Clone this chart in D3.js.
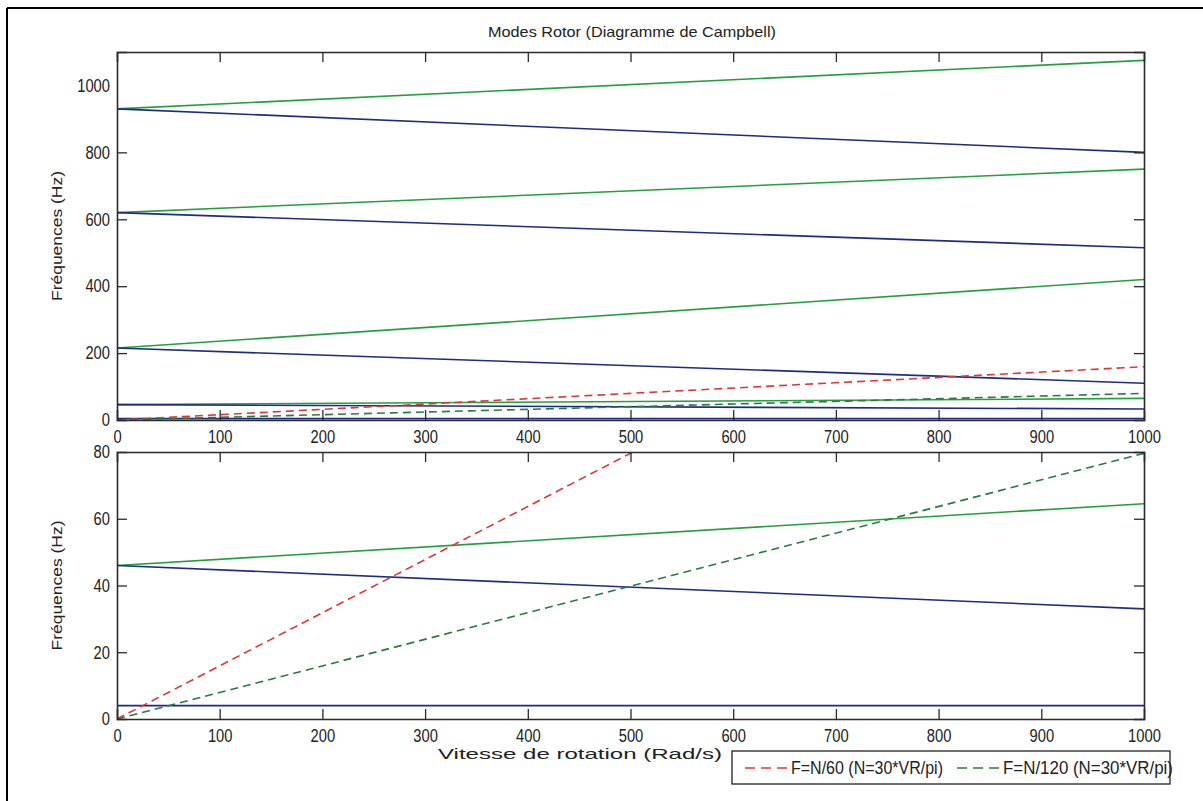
<!DOCTYPE html>
<html>
<head>
<meta charset="utf-8">
<script src="https://cdn.jsdelivr.net/npm/d3@7"></script>
<style>
  html, body { margin: 0; padding: 0; background: #fff; }
  svg { display: block; }
  .tick text { font-family: "Liberation Sans", Arial, sans-serif; font-size: 18px; fill: #222; }
  .lbl { font-family: "Liberation Sans", Arial, sans-serif; fill: #222; }
</style>
</head>
<body>
<svg id="chart" width="1203" height="801"></svg>
<script>
// ---------- data ----------
const speeds = [0, 1000];                       // Vitesse de rotation (Rad/s)
// forward whirl modes (green, solid) — frequencies at speed 0 and 1000
const forward1 = [46, 64.5];
const forward2 = [215, 420];
const forward3 = [620, 750];
const forward4 = [930, 1075];
// backward whirl modes (blue, solid)
const backward0 = [4, 4];
const backward1 = [46, 33];
const backward2 = [215, 110];
const backward3 = [620, 515];
const backward4 = [930, 800];
// excitation lines (dashed)
const excit60 = [0, 159.2];     // F=N/60
const excit120 = [0, 79.6];     // F=N/120
const xTicks = [0, 100, 200, 300, 400, 500, 600, 700, 800, 900, 1000];
const yTicksTop = [0, 200, 400, 600, 800, 1000];
const yTicksBottom = [0, 20, 40, 60, 80];
const legendLabels = ["F=N/60 (N=30*VR/pi)", "F=N/120 (N=30*VR/pi)"];

const BLUE = "#1e2a86", GREEN = "#22a03c", RED = "#e0363a", DGREEN = "#2b7a40";

const svg = d3.select("#chart");

// squeeze text horizontally to the reference's narrow look
function narrow(sel, perChar) {
  sel.each(function () {
    const t = d3.select(this);
    const n = t.text().length;
    if (n) t.attr("textLength", n * perChar).attr("lengthAdjust", "spacingAndGlyphs");
  });
}

// outer frame (left/top edges visible)
svg.append("line").attr("x1", 7).attr("y1", 8).attr("x2", 7).attr("y2", 801).attr("stroke", "#000").attr("stroke-width", 2);
svg.append("line").attr("x1", 7).attr("y1", 8).attr("x2", 1203).attr("y2", 8).attr("stroke", "#000").attr("stroke-width", 2);

function panel(id, top, bottom, yDomain, yTicks, series) {
  const x = d3.scaleLinear().domain([0, 1000]).range([117, 1144]);
  const y = d3.scaleLinear().domain(yDomain).range([bottom, top]);
  const g = svg.append("g");

  g.append("clipPath").attr("id", id).append("rect")
    .attr("x", 117).attr("y", top).attr("width", 1144 - 117).attr("height", bottom - top);

  const line = d3.line().x((d, i) => x(speeds[i])).y(d => y(d));
  const plot = g.append("g").attr("clip-path", `url(#${id})`);
  series.forEach(s => {
    plot.append("path").datum(s.values)
      .attr("d", line)
      .attr("fill", "none")
      .attr("stroke", s.color)
      .attr("stroke-width", 1.6)
      .attr("stroke-dasharray", s.dash || null);
  });

  const tickLen = 10;
  g.append("g").attr("transform", `translate(0,${bottom})`)
    .call(d3.axisBottom(x).tickValues(xTicks).tickSize(-tickLen).tickPadding(tickLen).tickFormat(d3.format("d")))
    .call(a => narrow(a.selectAll(".tick text"), 8.2));
  g.append("g").attr("transform", `translate(0,${top})`)
    .call(d3.axisTop(x).tickValues(xTicks).tickSize(-tickLen).tickFormat(""));
  g.append("g").attr("transform", `translate(117,0)`)
    .call(d3.axisLeft(y).tickValues(yTicks).tickSize(-tickLen).tickPadding(7).tickFormat(d3.format("d")))
    .call(a => narrow(a.selectAll(".tick text"), 8.2));
  g.append("g").attr("transform", `translate(1144,0)`)
    .call(d3.axisRight(y).tickValues(yTicks).tickSize(-tickLen).tickFormat(""));

  g.selectAll(".domain").attr("stroke", "#2a2a2a").attr("stroke-width", 1.6);
  g.selectAll(".tick line").attr("stroke", "#2a2a2a").attr("stroke-width", 1.3);
  g.selectAll(".tick").filter(d => d === 0 || d === 1000 || d === yDomain[1]).select("line").remove();

  g.append("text").attr("class", "lbl")
    .attr("transform", `translate(62,${(top + bottom) / 2}) rotate(-90)`)
    .attr("text-anchor", "middle").attr("font-size", 14)
    .attr("textLength", 130).attr("lengthAdjust", "spacingAndGlyphs")
    .text("Fréquences (Hz)");
  return { x, y, g };
}

const seriesTop = [
  { values: forward4, color: GREEN }, { values: backward4, color: BLUE },
  { values: forward3, color: GREEN }, { values: backward3, color: BLUE },
  { values: forward2, color: GREEN }, { values: backward2, color: BLUE },
  { values: forward1, color: GREEN }, { values: backward1, color: BLUE },
  { values: backward0, color: BLUE },
  { values: excit60, color: RED, dash: "8,5" },
  { values: excit120, color: DGREEN, dash: "8,5" }
];
const seriesBottom = [
  { values: forward1, color: GREEN }, { values: backward1, color: BLUE },
  { values: backward0, color: BLUE },
  { values: excit60, color: RED, dash: "8,5" },
  { values: excit120, color: DGREEN, dash: "8,5" }
];

panel("clipTop", 52, 420, [0, 1100], yTicksTop, seriesTop);
panel("clipBottom", 452, 719, [0, 80], yTicksBottom, seriesBottom);

// title
svg.append("text").attr("class", "lbl").attr("x", 632).attr("y", 37)
  .attr("text-anchor", "middle").attr("font-size", 15)
  .attr("textLength", 288).attr("lengthAdjust", "spacingAndGlyphs")
  .text("Modes Rotor (Diagramme de Campbell)");

// x label
svg.append("text").attr("class", "lbl").attr("x", 438).attr("y", 759)
  .attr("font-size", 15)
  .attr("textLength", 284).attr("lengthAdjust", "spacingAndGlyphs")
  .text("Vitesse de rotation (Rad/s)");

// legend
const lg = svg.append("g");
lg.append("rect").attr("x", 732).attr("y", 751).attr("width", 438).attr("height", 33)
  .attr("fill", "#fff").attr("stroke", "#222").attr("stroke-width", 1.3);
const legendItems = [
  { label: legendLabels[0], color: RED, x0: 745, len: 152 },
  { label: legendLabels[1], color: DGREEN, x0: 957, len: 170 }
];
legendItems.forEach(it => {
  lg.append("line").attr("x1", it.x0).attr("x2", it.x0 + 44).attr("y1", 768).attr("y2", 768)
    .attr("stroke", it.color).attr("stroke-width", 1.6).attr("stroke-dasharray", "10,6");
  lg.append("text").attr("x", it.x0 + 46).attr("y", 774)
    .attr("class", "lbl").attr("font-size", 18)
    .attr("textLength", it.len).attr("lengthAdjust", "spacingAndGlyphs")
    .text(it.label);
});
</script>
</body>
</html>
